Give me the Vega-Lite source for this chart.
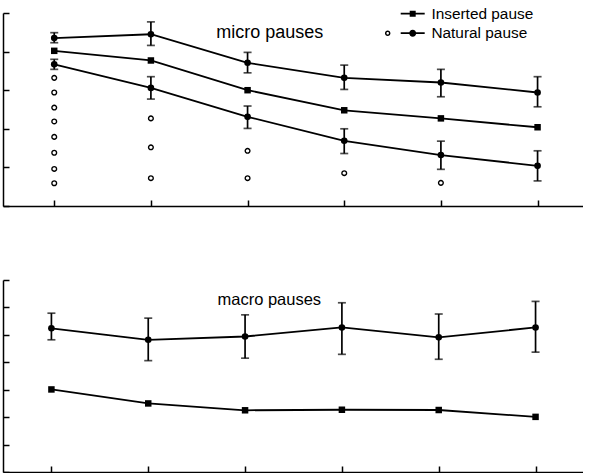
{
  "$schema": "https://vega.github.io/schema/vega-lite/v6.json",
  "autosize": {"type": "pad"},
  "padding": {"left": 2, "top": 6, "right": 0, "bottom": 0},
  "background": "white",
  "spacing": 72,
  "config": {
    "view": {"stroke": null},
    "font": "Liberation Sans",
    "axis": {
      "domainColor": "black", "domainWidth": 1.5, "tickColor": "black", "tickWidth": 1.5,
      "tickSize": -6, "labels": false, "grid": false, "title": null, "tickCount": 20
    }
  },
  "datasets": {
    "micro": [
      {"x": 1, "y": 4.35, "lo": 4.23, "hi": 4.49, "series": "Natural pause", "line": "nat_hi"},
      {"x": 2, "y": 4.45, "lo": 4.16, "hi": 4.77, "series": "Natural pause", "line": "nat_hi"},
      {"x": 3, "y": 3.71, "lo": 3.45, "hi": 3.98, "series": "Natural pause", "line": "nat_hi"},
      {"x": 4, "y": 3.32, "lo": 3.02, "hi": 3.65, "series": "Natural pause", "line": "nat_hi"},
      {"x": 5, "y": 3.20, "lo": 2.83, "hi": 3.54, "series": "Natural pause", "line": "nat_hi"},
      {"x": 6, "y": 2.94, "lo": 2.57, "hi": 3.35, "series": "Natural pause", "line": "nat_hi"},
      {"x": 1, "y": 4.02, "series": "Inserted pause", "line": "ins"},
      {"x": 2, "y": 3.77, "series": "Inserted pause", "line": "ins"},
      {"x": 3, "y": 3.00, "series": "Inserted pause", "line": "ins"},
      {"x": 4, "y": 2.48, "series": "Inserted pause", "line": "ins"},
      {"x": 5, "y": 2.27, "series": "Inserted pause", "line": "ins"},
      {"x": 6, "y": 2.04, "series": "Inserted pause", "line": "ins"},
      {"x": 1, "y": 3.67, "lo": 3.54, "hi": 3.80, "series": "Natural pause", "line": "nat_lo"},
      {"x": 2, "y": 3.06, "lo": 2.77, "hi": 3.35, "series": "Natural pause", "line": "nat_lo"},
      {"x": 3, "y": 2.31, "lo": 2.01, "hi": 2.59, "series": "Natural pause", "line": "nat_lo"},
      {"x": 4, "y": 1.69, "lo": 1.36, "hi": 2.00, "series": "Natural pause", "line": "nat_lo"},
      {"x": 5, "y": 1.32, "lo": 0.95, "hi": 1.68, "series": "Natural pause", "line": "nat_lo"},
      {"x": 6, "y": 1.04, "lo": 0.65, "hi": 1.43, "series": "Natural pause", "line": "nat_lo"}
    ],
    "micro_open": [
      {"x": 1, "y": 3.32}, {"x": 1, "y": 2.94}, {"x": 1, "y": 2.55}, {"x": 1, "y": 2.19},
      {"x": 1, "y": 1.79}, {"x": 1, "y": 1.38}, {"x": 1, "y": 0.96}, {"x": 1, "y": 0.59},
      {"x": 2, "y": 2.27}, {"x": 2, "y": 1.52}, {"x": 2, "y": 0.72},
      {"x": 3, "y": 1.43}, {"x": 3, "y": 0.72},
      {"x": 4, "y": 0.85},
      {"x": 5, "y": 0.60}
    ],
    "macro": [
      {"x": 1, "y": 5.24, "lo": 4.82, "hi": 5.79, "series": "Natural pause", "line": "nat"},
      {"x": 2, "y": 4.82, "lo": 4.06, "hi": 5.61, "series": "Natural pause", "line": "nat"},
      {"x": 3, "y": 4.94, "lo": 4.15, "hi": 5.73, "series": "Natural pause", "line": "nat"},
      {"x": 4, "y": 5.27, "lo": 4.29, "hi": 6.17, "series": "Natural pause", "line": "nat"},
      {"x": 5, "y": 4.91, "lo": 4.11, "hi": 5.76, "series": "Natural pause", "line": "nat"},
      {"x": 6, "y": 5.27, "lo": 4.37, "hi": 6.22, "series": "Natural pause", "line": "nat"},
      {"x": 1, "y": 3.01, "series": "Inserted pause", "line": "ins"},
      {"x": 2, "y": 2.50, "series": "Inserted pause", "line": "ins"},
      {"x": 3, "y": 2.25, "series": "Inserted pause", "line": "ins"},
      {"x": 4, "y": 2.27, "series": "Inserted pause", "line": "ins"},
      {"x": 5, "y": 2.26, "series": "Inserted pause", "line": "ins"},
      {"x": 6, "y": 2.01, "series": "Inserted pause", "line": "ins"}
    ]
  },
  "vconcat": [
    {
      "width": 580,
      "height": 193,
      "layer": [
        {"data": {"name": "micro"}, "mark": {"type": "line", "color": "black", "strokeWidth": 1.8},
         "encoding": {
           "x": {"field": "x", "type": "quantitative", "scale": {"domain": [0.47, 6.47], "nice": false, "zero": false}, "axis": {"values": [1, 2, 3, 4, 5, 6]}},
           "y": {"field": "y", "type": "quantitative", "scale": {"domain": [0, 5], "nice": false}, "axis": {"values": [0, 1, 2, 3, 4, 5]}},
           "detail": {"field": "line"}}},
        {"data": {"name": "micro"}, "transform": [{"filter": "isValid(datum.lo)"}], "mark": {"type": "rule", "color": "black", "strokeWidth": 1.7},
         "encoding": {"x": {"field": "x", "type": "quantitative"}, "y": {"field": "lo", "type": "quantitative"}, "y2": {"field": "hi"}}},
        {"data": {"name": "micro"}, "transform": [{"filter": "isValid(datum.lo)"}], "mark": {"type": "tick", "orient": "horizontal", "color": "black", "size": 8, "thickness": 1.7},
         "encoding": {"x": {"field": "x", "type": "quantitative"}, "y": {"field": "lo", "type": "quantitative"}}},
        {"data": {"name": "micro"}, "transform": [{"filter": "isValid(datum.hi)"}], "mark": {"type": "tick", "orient": "horizontal", "color": "black", "size": 8, "thickness": 1.7},
         "encoding": {"x": {"field": "x", "type": "quantitative"}, "y": {"field": "hi", "type": "quantitative"}}},
        {"data": {"name": "micro_open"}, "mark": {"type": "point", "filled": false, "color": "black", "strokeWidth": 1.4, "size": 22, "opacity": 1},
         "encoding": {"x": {"field": "x", "type": "quantitative"}, "y": {"field": "y", "type": "quantitative"}}},
        {
          "data": {"name": "micro"},
          "mark": {"type": "point", "filled": true, "color": "black", "opacity": 0},
          "encoding": {
            "x": {"field": "x", "type": "quantitative"},
            "y": {"field": "y", "type": "quantitative"},
            "shape": {
              "field": "series", "type": "nominal",
              "scale": {"domain": ["Inserted pause", "Natural pause"], "range": [
                "M-0.8,-0.17L4,-0.17L4,0.17L-0.8,0.17Z M1,-0.6L2.2,-0.6L2.2,0.6L1,0.6Z",
                "M-0.8,-0.17L4,-0.17L4,0.17L-0.8,0.17Z M0.9,0A0.7,0.7 0 1,1 2.3,0A0.7,0.7 0 1,1 0.9,0Z M-3.95,0A0.55,0.55 0 1,1 -2.85,0A0.55,0.55 0 1,1 -3.95,0Z M-3.65,0A0.25,0.25 0 1,0 -3.15,0A0.25,0.25 0 1,0 -3.65,0Z"
              ]},
              "legend": {
                "orient": "none", "legendX": 394, "legendY": -7, "title": null,
                "labelFont": "Liberation Sans", "labelFontSize": 15.4, "labelColor": "black",
                "symbolSize": 100, "labelOffset": 19, "rowPadding": 2.5,
                "symbolOpacity": 1, "symbolFillColor": "black", "symbolStrokeColor": "black", "symbolStrokeWidth": 0
              }
            },
            "size": {"value": 40}
          }
        },
        {"data": {"name": "micro"}, "transform": [{"filter": "datum.series === 'Inserted pause'"}],
         "mark": {"type": "point", "shape": "square", "filled": true, "color": "black", "opacity": 1, "size": 42},
         "encoding": {"x": {"field": "x", "type": "quantitative"}, "y": {"field": "y", "type": "quantitative"}}},
        {"data": {"name": "micro"}, "transform": [{"filter": "datum.series === 'Natural pause'"}],
         "mark": {"type": "point", "shape": "circle", "filled": true, "color": "black", "opacity": 1, "size": 44},
         "encoding": {"x": {"field": "x", "type": "quantitative"}, "y": {"field": "y", "type": "quantitative"}}},
        {
          "data": {"values": [{}]},
          "mark": {"type": "text", "text": "micro pauses", "font": "Liberation Sans", "fontSize": 18, "align": "center", "baseline": "alphabetic", "color": "black"},
          "encoding": {"x": {"datum": 3.23}, "y": {"datum": 4.34}}
        }
      ]
    },
    {
      "width": 580,
      "height": 192,
      "layer": [
        {"data": {"name": "macro"}, "mark": {"type": "line", "color": "black", "strokeWidth": 1.8},
         "encoding": {
           "x": {"field": "x", "type": "quantitative", "scale": {"domain": [0.5, 6.49], "nice": false, "zero": false}, "axis": {"values": [1, 2, 3, 4, 5, 6]}},
           "y": {"field": "y", "type": "quantitative", "scale": {"domain": [0, 7], "nice": false}, "axis": {"values": [0, 1, 2, 3, 4, 5, 6, 7]}},
           "detail": {"field": "line"}}},
        {"data": {"name": "macro"}, "transform": [{"filter": "isValid(datum.lo)"}], "mark": {"type": "rule", "color": "black", "strokeWidth": 1.7},
         "encoding": {"x": {"field": "x", "type": "quantitative"}, "y": {"field": "lo", "type": "quantitative"}, "y2": {"field": "hi"}}},
        {"data": {"name": "macro"}, "transform": [{"filter": "isValid(datum.lo)"}], "mark": {"type": "tick", "orient": "horizontal", "color": "black", "size": 8, "thickness": 1.7},
         "encoding": {"x": {"field": "x", "type": "quantitative"}, "y": {"field": "lo", "type": "quantitative"}}},
        {"data": {"name": "macro"}, "transform": [{"filter": "isValid(datum.hi)"}], "mark": {"type": "tick", "orient": "horizontal", "color": "black", "size": 8, "thickness": 1.7},
         "encoding": {"x": {"field": "x", "type": "quantitative"}, "y": {"field": "hi", "type": "quantitative"}}},
        {"data": {"name": "macro"}, "transform": [{"filter": "datum.series === 'Inserted pause'"}],
         "mark": {"type": "point", "shape": "square", "filled": true, "color": "black", "opacity": 1, "size": 42},
         "encoding": {"x": {"field": "x", "type": "quantitative"}, "y": {"field": "y", "type": "quantitative"}}},
        {"data": {"name": "macro"}, "transform": [{"filter": "datum.series === 'Natural pause'"}],
         "mark": {"type": "point", "shape": "circle", "filled": true, "color": "black", "opacity": 1, "size": 44},
         "encoding": {"x": {"field": "x", "type": "quantitative"}, "y": {"field": "y", "type": "quantitative"}}},
        {
          "data": {"values": [{}]},
          "mark": {"type": "text", "text": "macro pauses", "font": "Liberation Sans", "fontSize": 16.5, "align": "center", "baseline": "alphabetic", "color": "black"},
          "encoding": {"x": {"datum": 3.25}, "y": {"datum": 6.1}}
        }
      ]
    }
  ]
}
